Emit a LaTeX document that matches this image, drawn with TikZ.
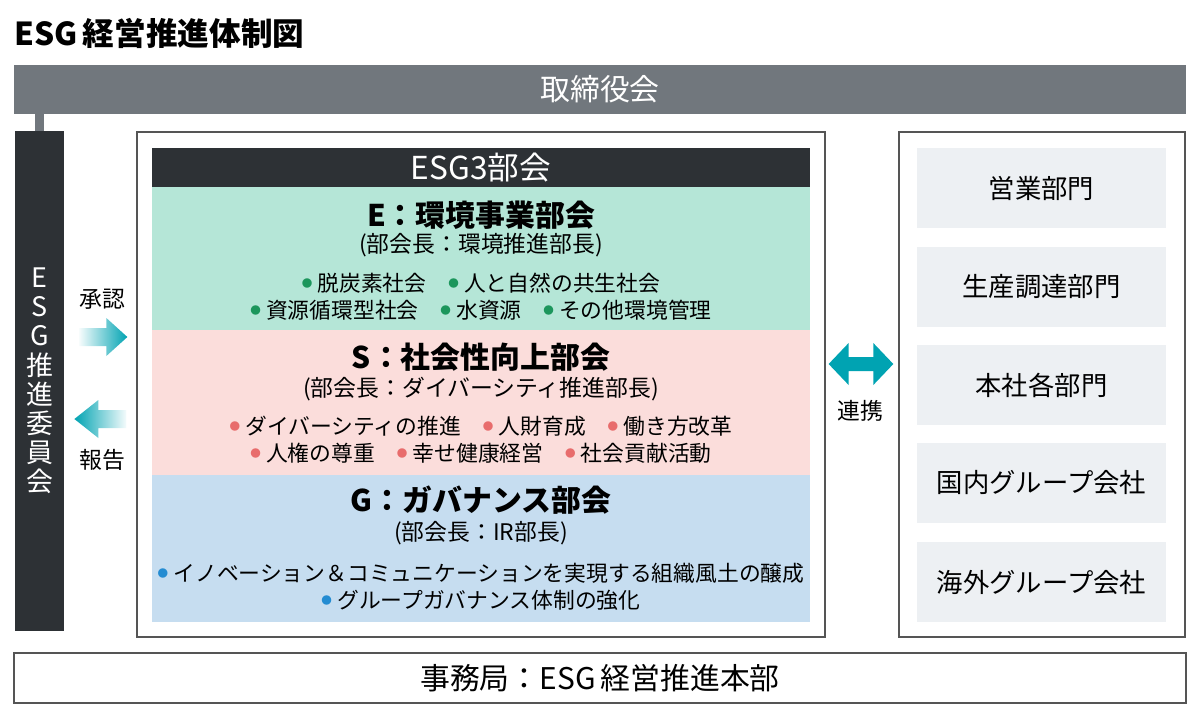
\documentclass[tikz,border=0pt]{standalone}
\usepackage{fontspec}
\setmainfont{Noto Sans CJK JP}
\usepackage{xcolor}
\usetikzlibrary{calc,positioning}

\definecolor{barGray}{RGB}{113,119,125}
\definecolor{darkcol}{RGB}{45,49,53}
\definecolor{frame}{RGB}{85,85,85}
\definecolor{arrowteal}{RGB}{0,163,178}
\definecolor{eMint}{RGB}{181,230,215}
\definecolor{sPink}{RGB}{251,221,219}
\definecolor{gBlue}{RGB}{198,221,240}
\definecolor{deptgray}{RGB}{237,240,243}
\definecolor{eDot}{RGB}{28,150,92}
\definecolor{sDot}{RGB}{232,108,108}
\definecolor{gDot}{RGB}{36,140,210}

\newcommand{\bul}[1]{\raisebox{2.2pt}{\textcolor{#1}{\fontsize{6}{6}\selectfont ●}}\hspace{3pt}}

\begin{document}
\begin{tikzpicture}[x=0.02cm, y=-0.02cm,
    box/.style={draw=frame, line width=0.8pt, inner sep=0pt},
    band/.style={inner sep=0pt, minimum width=13.16cm},
    dept/.style={fill=deptgray, inner sep=0pt, minimum width=4.98cm, minimum height=1.6cm, font=\fontsize{15}{18}\selectfont},
    sectitle/.style={inner sep=0pt, font=\bfseries\fontsize{17}{20}\selectfont},
    chair/.style={inner sep=0pt, font=\fontsize{13}{16}\selectfont},
    items/.style={inner sep=0pt, font=\fontsize{12.4}{15}\selectfont},
    lbl/.style={inner sep=0pt, font=\fontsize{13}{16}\selectfont},
]
\useasboundingbox (0,0) rectangle (1200,721);

% Title
\node[anchor=west, inner sep=0pt, font=\bfseries\fontsize{18}{22}\selectfont] (title) at (14,33) {ESG\,経営推進体制図};

% Board and committee
\node[fill=barGray, inner sep=0pt, minimum width=23.44cm, minimum height=0.98cm, text=white, font=\fontsize{17}{20}\selectfont] (board) at (600,89.5) {取締役会};
\node[fill=darkcol, inner sep=0pt, minimum width=0.98cm, minimum height=10cm, text=white, align=center, font=\fontsize{15.3}{16.6}\selectfont] (esgc) at (39.5,381) {E\\S\\G\\推\\進\\委\\員\\会};
\draw[barGray, line width=0.18cm] (esgc.north) -- (esgc.north |- board.south);

% ESG3 subcommittees
\node[box, minimum width=13.76cm, minimum height=10.1cm] (bukai) at (481,384.5) {};
\node[band, fill=darkcol, minimum height=0.78cm, text=white, font=\fontsize{18}{20}\selectfont] (head) at (481,167.5) {ESG3部会};
\node[band, fill=eMint, minimum height=2.86cm] (eSec) at (481,258.5) {};
\node[band, fill=sPink, minimum height=2.9cm] (sSec) at (481,402.5) {};
\node[band, fill=gBlue, minimum height=2.94cm] (gSec) at (481,548.5) {};

\node[sectitle] (eTitle) at (481,215) {E：環境事業部会};
\node[chair] (eChair) at (481,245) {(部会長：環境推進部長)};
\node[items] (eItem1) at (481,283) {\bul{eDot}脱炭素社会\quad\bul{eDot}人と自然の共生社会};
\node[items] (eItem2) at (481,310) {\bul{eDot}資源循環型社会\quad\bul{eDot}水資源\quad\bul{eDot}その他環境管理};

\node[sectitle] (sTitle) at (481,357) {S：社会性向上部会};
\node[chair] (sChair) at (481,389) {(部会長：ダイバーシティ推進部長)};
\node[items] (sItem1) at (481,426) {\bul{sDot}ダイバーシティの推進\quad\bul{sDot}人財育成\quad\bul{sDot}働き方改革};
\node[items] (sItem2) at (481,453) {\bul{sDot}人権の尊重\quad\bul{sDot}幸せ健康経営\quad\bul{sDot}社会貢献活動};

\node[sectitle] (gTitle) at (481,500) {G：ガバナンス部会};
\node[chair] (gChair) at (481,533) {(部会長：IR部長)};
\node[items] (gItem1) at (481,573) {\bul{gDot}イノベーション＆コミュニケーションを実現する組織風土の醸成};
\node[items] (gItem2) at (481,600) {\bul{gDot}グループガバナンス体制の強化};

% Departments
\node[box, minimum width=5.72cm, minimum height=10.1cm] (depts) at (1042,384.5) {};
\foreach \nm/\yy/\txt in {sales/188/営業部門, prod/287/生産調達部門, hq/385/本社各部門, dom/483/国内グループ会社, ovs/582/海外グループ会社}
    \node[dept] (\nm) at (1041.5,\yy) {\txt};

% Secretariat
\node[box, minimum width=23.44cm, minimum height=1cm, font=\fontsize{17}{20}\selectfont] (office) at (600,678) {事務局：ESG\,経営推進本部};

% Approve / report arrows
\coordinate (apH) at ($(bukai.west)+(-9,-47.5)$);
\coordinate (apT) at ($(apH)+(-48,0)$);
\shade[left color=arrowteal!4, middle color=arrowteal, right color=arrowteal]
    ($(apT)+(0,-9)$) -- ($(apH)+(-21,-9)$) -- ($(apH)+(-21,-19)$) -- (apH)
    -- ($(apH)+(-21,19)$) -- ($(apH)+(-21,9)$) -- ($(apT)+(0,9)$) -- cycle;
\node[lbl] (approve) at (102,299) {承認};

\coordinate (rpT) at ($(bukai.west)+(-10,34.5)$);
\coordinate (rpH) at ($(rpT)+(-52,0)$);
\shade[left color=arrowteal, middle color=arrowteal, right color=arrowteal!4]
    ($(rpT)+(0,-9)$) -- ($(rpH)+(24,-9)$) -- ($(rpH)+(24,-19)$) -- (rpH)
    -- ($(rpH)+(24,19)$) -- ($(rpH)+(24,9)$) -- ($(rpT)+(0,9)$) -- cycle;
\node[lbl] (report) at (102,460) {報告};

% Link arrow
\coordinate (lkL) at ($(bukai.east)+(3,-20.5)$);
\coordinate (lkR) at ($(depts.west)+(-5,-20.5)$);
\fill[arrowteal] (lkL) -- ($(lkL)+(20,-21)$) -- ($(lkL)+(20,-7)$) -- ($(lkR)+(-20,-7)$)
    -- ($(lkR)+(-20,-21)$) -- (lkR) -- ($(lkR)+(-20,21)$) -- ($(lkR)+(-20,7)$)
    -- ($(lkL)+(20,7)$) -- ($(lkL)+(20,21)$) -- cycle;
\node[lbl] (link) at (860,411) {連携};

\end{tikzpicture}
\end{document}
